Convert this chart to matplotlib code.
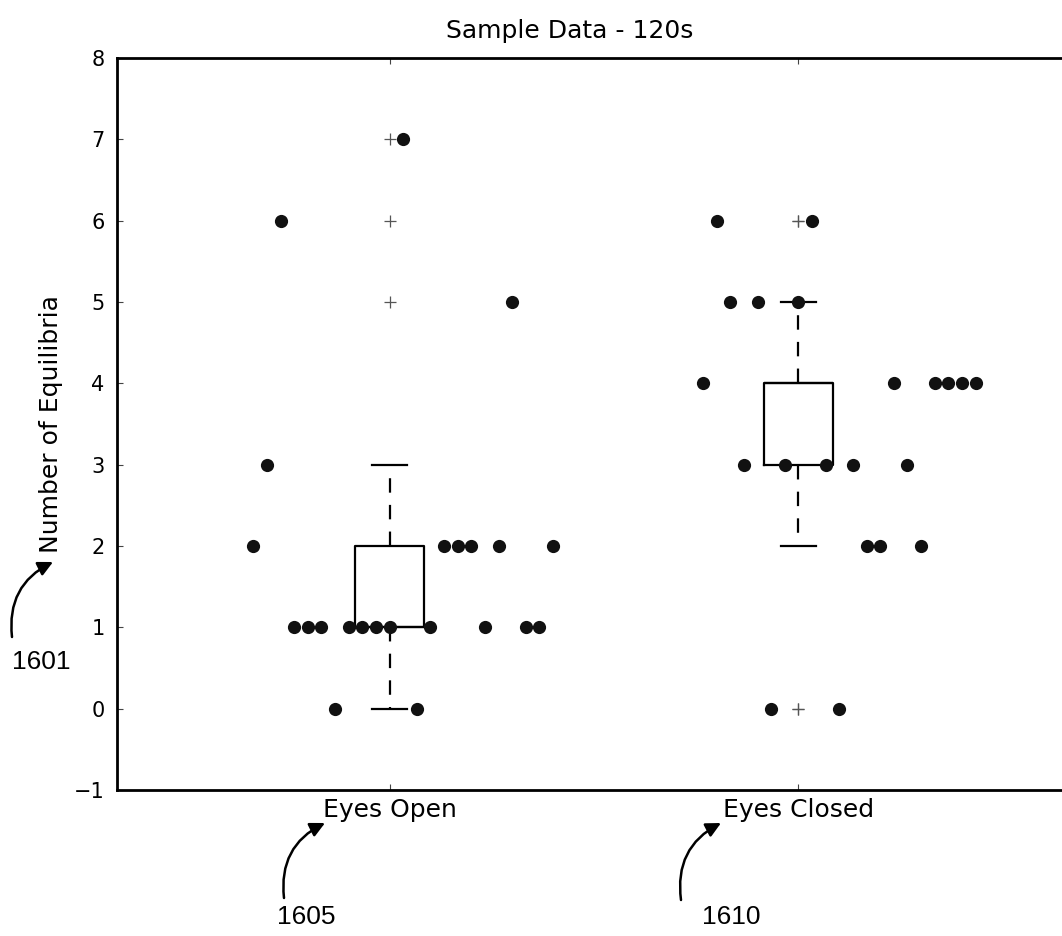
import numpy as np
import matplotlib
matplotlib.use("Agg")
import matplotlib.pyplot as plt

# ---- data ----
categories = ["Eyes Open", "Eyes Closed"]
eyes_open = [2, 3, 6, 1, 1, 1, 0, 1, 1, 1, 1, 7, 0, 1, 2, 2, 2, 1, 2, 5, 1, 1, 2]
eyes_closed = [4, 6, 5, 3, 5, 0, 3, 5, 6, 3, 0, 3, 2, 2, 4, 3, 2, 4, 4, 4, 4]
y_ticks = [-1, 0, 1, 2, 3, 4, 5, 6, 7, 8]
title = "Sample Data - 120s"
y_label = "Number of Equilibria"
ref_labels = ["1601", "1605", "1610"]

# ---- layout ----
W, H = 1062, 936
fig = plt.figure(figsize=(W / 100, H / 100), dpi=100)
plt.rcParams['font.family'] = ['DejaVu Sans']

left_px, right_px, top_px, bot_px = 117, 1071, 58, 790
ax = fig.add_axes([left_px / W, 1 - bot_px / H, (right_px - left_px) / W, (bot_px - top_px) / H])

positions = [1, 2]
groups = [eyes_open, eyes_closed]

bp = ax.boxplot(groups, positions=positions, widths=0.17, whis=1.5,
                patch_artist=False, manage_ticks=False,
                boxprops=dict(color='black', linewidth=1.6),
                medianprops=dict(color='black', linewidth=1.6),
                whiskerprops=dict(color='black', linewidth=1.6, linestyle=(0, (6.5, 5.5))),
                capprops=dict(color='black', linewidth=1.6),
                flierprops=dict(marker='+', markersize=9, markeredgecolor='#555555',
                                markeredgewidth=0.9, linestyle='none'))

# spread of individual points (evenly spaced beside each box)
starts = [-10, -7]
for pos, vals, st in zip(positions, groups, starts):
    xs = pos + (np.arange(len(vals)) + st) / 30.0
    ax.plot(xs, vals, 'o', color='#111111', markersize=9.5, markeredgewidth=0, zorder=4)

ax.set_xlim(1 / 3, 8 / 3)
ax.set_ylim(-1, 8)
ax.set_yticks(y_ticks)
ax.set_xticks(positions)
ax.set_xticklabels(categories, fontsize=18)
ax.tick_params(axis='y', labelsize=15, pad=9)
ax.tick_params(axis='x', pad=6)
ax.tick_params(direction='in', length=4, width=0.8, color='#444444',
               top=True, right=True)
for s in ax.spines.values():
    s.set_linewidth(2)
ax.set_ylabel(y_label, fontsize=18, labelpad=8)

fig.text(570 / W, 1 - 38 / H, title, fontsize=18, ha='center', va='baseline')

# ---- reference numerals with curved arrows ----
def fp(x, y):
    return (x / W, 1 - y / H)

arrows = [((12, 637), (53, 562), (41, 662)),
          ((284, 898), (325, 823), (306, 917)),
          ((681, 900), (721, 823), (731, 917))]
for lab, (tail, head, tpos) in zip(ref_labels, arrows):
    fig.text(*fp(*tpos), lab, fontsize=19, ha='center', va='center',
             family=['Liberation Sans', 'DejaVu Sans'])
    ax.annotate('', xy=fp(*head), xytext=fp(*tail), xycoords='figure fraction',
                textcoords='figure fraction', annotation_clip=False,
                arrowprops=dict(arrowstyle='-|>', color='black', lw=1.8,
                                mutation_scale=22, shrinkA=0, shrinkB=0,
                                connectionstyle='arc3,rad=-0.35'))

fig.savefig('out.png', dpi=100)
